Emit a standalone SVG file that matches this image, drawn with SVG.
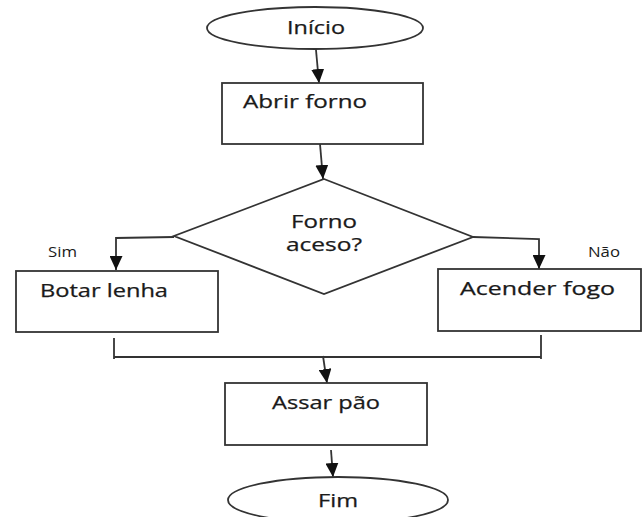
<svg xmlns="http://www.w3.org/2000/svg" width="642" height="517" viewBox="0 0 642 517">
<defs>
<style>
.shape{fill:#fff;stroke:#333;stroke-width:1.8}
.line{fill:none;stroke:#333;stroke-width:1.8}
.t{font-family:"Open Sans","Noto Sans","Liberation Sans",sans-serif;font-size:17.5px;fill:#1a1a1a;stroke:#1a1a1a;stroke-width:0.25}
.s{font-family:"Open Sans","Noto Sans","Liberation Sans",sans-serif;font-size:14px;fill:#1a1a1a}
</style>
<marker id="ah" markerUnits="userSpaceOnUse" markerWidth="14" markerHeight="13" viewBox="0 0 14 13" refX="14" refY="6.5" orient="auto">
<path d="M0,0 L14,6.5 L0,13 Z" fill="#111"/>
</marker>
</defs>
<rect width="642" height="517" fill="#fff"/>
<g id="connectors">
<line class="line" x1="316" y1="50" x2="319" y2="83" marker-end="url(#ah)"/>
<line class="line" x1="320" y1="144" x2="323" y2="179" marker-end="url(#ah)"/>
<polyline class="line" points="174,237 116,238 116,270" marker-end="url(#ah)"/>
<polyline class="line" points="473,237 539,239 539,269" marker-end="url(#ah)"/>
<line class="line" x1="114" y1="338" x2="114" y2="359"/>
<line class="line" x1="541" y1="335" x2="541" y2="359"/>
<line class="line" x1="114" y1="357" x2="541" y2="357"/>
<line class="line" x1="323" y1="356" x2="327" y2="383" marker-end="url(#ah)"/>
<line class="line" x1="331" y1="450" x2="333" y2="477" marker-end="url(#ah)"/>
</g>
<g id="inicio">
<ellipse class="shape" cx="315" cy="28" rx="108" ry="21"/>
<text class="t" x="316" y="34" text-anchor="middle" textLength="58" lengthAdjust="spacingAndGlyphs">Início</text>
</g>
<g id="abrir">
<rect class="shape" x="222" y="83" width="201" height="61"/>
<text class="t" x="243" y="108" textLength="124" lengthAdjust="spacingAndGlyphs">Abrir forno</text>
</g>
<g id="decisao">
<polygon class="shape" points="324,179 473,237 324,294 174,236"/>
<text class="t" x="324" y="228" text-anchor="middle" textLength="66" lengthAdjust="spacingAndGlyphs">Forno</text>
<text class="t" x="324" y="251" text-anchor="middle" textLength="76" lengthAdjust="spacingAndGlyphs">aceso?</text>
</g>
<text class="s" x="48" y="257" textLength="29" lengthAdjust="spacingAndGlyphs">Sim</text>
<text class="s" x="588" y="257" textLength="32" lengthAdjust="spacingAndGlyphs">Não</text>
<g id="botar">
<rect class="shape" x="16" y="271" width="202" height="61"/>
<text class="t" x="40" y="297" textLength="128" lengthAdjust="spacingAndGlyphs">Botar lenha</text>
</g>
<g id="acender">
<rect class="shape" x="438" y="269" width="203" height="62"/>
<text class="t" x="460" y="295" textLength="155" lengthAdjust="spacingAndGlyphs">Acender fogo</text>
</g>
<g id="assar">
<rect class="shape" x="225" y="383" width="202" height="62"/>
<text class="t" x="272" y="409" textLength="108" lengthAdjust="spacingAndGlyphs">Assar pão</text>
</g>
<g id="fim">
<ellipse class="shape" cx="338" cy="500" rx="110" ry="23"/>
<text class="t" x="338" y="507" text-anchor="middle" textLength="40" lengthAdjust="spacingAndGlyphs">Fim</text>
</g>
</svg>
